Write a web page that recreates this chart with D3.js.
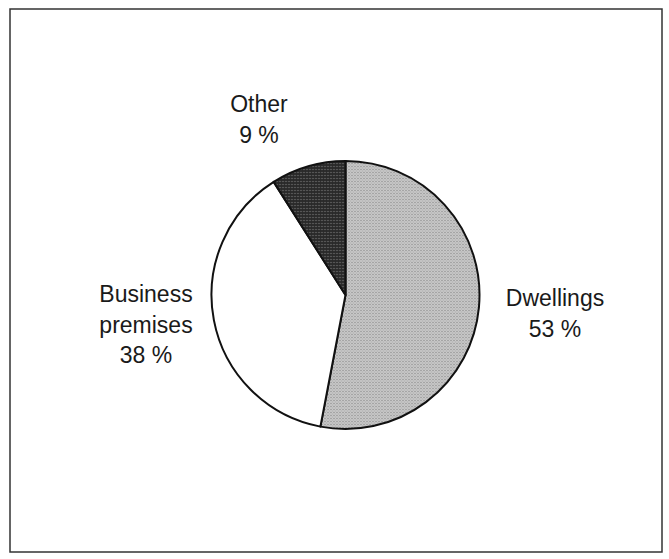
<!DOCTYPE html>
<html><head><meta charset="utf-8">
<script src="https://cdn.jsdelivr.net/npm/d3@7"></script>
<style>body{margin:0;background:#fff}svg{display:block}</style>
</head><body>
<svg id="c" width="669" height="559"></svg>
<script>
const categories = ["Dwellings", "Business premises", "Other"];
const values = [53, 38, 9];
const labelLines = [["Dwellings", "53 %"], ["Business", "premises", "38 %"], ["Other", "9 %"]];

const svg = d3.select("#c");
const defs = svg.append("defs");
// stipple patterns
const p1 = defs.append("pattern").attr("id","light").attr("width",3).attr("height",3).attr("patternUnits","userSpaceOnUse");
p1.append("rect").attr("width",3).attr("height",3).attr("fill","#cacaca");
p1.append("rect").attr("x",0).attr("y",0).attr("width",1).attr("height",1).attr("fill","#808080");
p1.append("rect").attr("x",1.5).attr("y",1.5).attr("width",1).attr("height",1).attr("fill","#909090");
const p2 = defs.append("pattern").attr("id","dark").attr("width",3).attr("height",3).attr("patternUnits","userSpaceOnUse");
p2.append("rect").attr("width",3).attr("height",3).attr("fill","#303030");
p2.append("rect").attr("x",0).attr("y",0).attr("width",1).attr("height",1).attr("fill","#7a7a7a");
p2.append("rect").attr("x",1.5).attr("y",1.5).attr("width",1).attr("height",1).attr("fill","#111");

const fills = d3.scaleOrdinal().domain(categories).range(["url(#light)", "#ffffff", "url(#dark)"]);

svg.append("rect").attr("x",10).attr("y",9).attr("width",652).attr("height",543)
  .attr("fill","none").attr("stroke","#333").attr("stroke-width",1.5);

const cx = 345.5, cy = 295, r = 134;
const pie = d3.pie().sort(null).value(d => d)(values);
const arc = d3.arc().innerRadius(0).outerRadius(r);
const g = svg.append("g").attr("transform", `translate(${cx},${cy})`);
g.selectAll("path").data(pie).join("path")
  .attr("d", arc)
  .attr("fill", (d,i) => fills(categories[i]))
  .attr("stroke", "#111").attr("stroke-width", 2).attr("stroke-linejoin","round");

const labelPos = [[555, 306], [146, 302], [259, 112]];
labelLines.forEach((lines, i) => {
  const t = svg.append("text")
    .attr("x", labelPos[i][0]).attr("y", labelPos[i][1])
    .attr("text-anchor","middle")
    .attr("font-family","'Liberation Sans', Arial, sans-serif")
    .attr("font-size", 23).attr("fill","#1a1a1a");
  lines.forEach((l, j) => t.append("tspan").attr("x", labelPos[i][0]).attr("dy", j === 0 ? 0 : 30.5).text(l));
});
</script>
</body></html>
